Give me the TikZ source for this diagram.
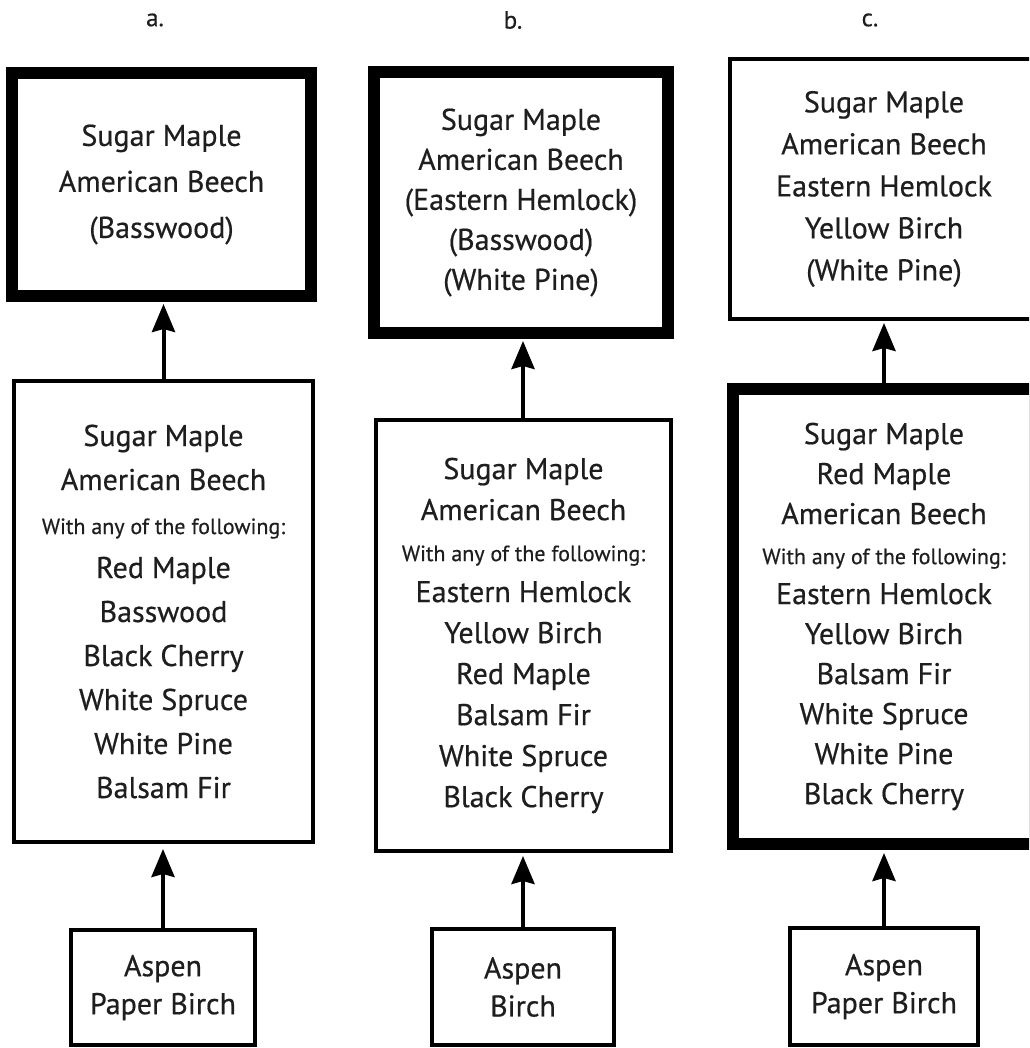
\documentclass[tikz,border=0pt]{standalone}
\usepackage{fontspec}
\setmainfont{PT Sans}[FakeBold=0.5]
\usetikzlibrary{arrows.meta}
\definecolor{txt}{HTML}{1E1E1E}
\tikzset{
  box/.style={draw=black, rectangle, inner sep=0pt, align=center, text=txt},
  thinbox/.style={box, line width=4pt},
  heavybox/.style={box, line width=12pt},
  upar/.style={draw=black, line width=4pt, -{Stealth[length=28pt,width=23pt,inset=3pt]}, shorten >=2pt},
  lab/.style={text=txt, font=\fontsize{25}{28}\selectfont},
}
\newcommand\smallline{\fontsize{22}{30}\selectfont}
\begin{document}
\begin{tikzpicture}[x=1pt,y=-1pt]
\useasboundingbox (0,0) rectangle (1029,1048);
\clip (0,0) rectangle (1029,1048);
\fill[white] (0,0) rectangle (1029,1048);

% column labels
\node[lab] (la) at (155,20) {a.};
\node[lab] (lb) at (513,20) {b.};
\node[lab] (lc) at (870,20) {c.};

% column a
\node[heavybox, minimum width=299pt, minimum height=223pt, font=\fontsize{30}{46}\selectfont] (atop) at (161.5,184.5)
  {Sugar Maple\\American Beech\\(Basswood)};
\node[thinbox, minimum width=299pt, minimum height=461pt, font=\fontsize{30}{44}\selectfont] (amid) at (163.5,611.5)
  {Sugar Maple\\American Beech\\{\smallline With any of the following:}\\Red Maple\\Basswood\\Black Cherry\\White Spruce\\White Pine\\Balsam Fir};
\node[thinbox, minimum width=184pt, minimum height=115pt, font=\fontsize{30}{38}\selectfont] (abot) at (163,987.5)
  {Aspen\\Paper Birch};

% column b
\node[heavybox, minimum width=294pt, minimum height=261pt, font=\fontsize{30}{40}\selectfont] (btop) at (521,202.5)
  {Sugar Maple\\American Beech\\(Eastern Hemlock)\\(Basswood)\\(White Pine)};
\node[thinbox, minimum width=295pt, minimum height=431pt, font=\fontsize{30}{41}\selectfont] (bmid) at (523.5,635.5)
  {Sugar Maple\\American Beech\\{\smallline With any of the following:}\\Eastern Hemlock\\Yellow Birch\\Red Maple\\Balsam Fir\\White Spruce\\Black Cherry};
\node[thinbox, minimum width=182pt, minimum height=116pt, font=\fontsize{30}{38}\selectfont] (bbot) at (523,987)
  {Aspen\\Birch};

% column c
\node[thinbox, minimum width=308pt, minimum height=260pt, font=\fontsize{30}{42}\selectfont] (ctop) at (884,189)
  {Sugar Maple\\American Beech\\Eastern Hemlock\\Yellow Birch\\(White Pine)};
\node[heavybox, minimum width=302pt, minimum height=455pt, font=\fontsize{30}{40}\selectfont] (cmid) at (884,616.5)
  {Sugar Maple\\Red Maple\\American Beech\\{\smallline With any of the following:}\\Eastern Hemlock\\Yellow Birch\\Balsam Fir\\White Spruce\\White Pine\\Black Cherry};
\node[thinbox, minimum width=188pt, minimum height=117pt, font=\fontsize{30}{38}\selectfont] (cbot) at (884,986.5)
  {Aspen\\Paper Birch};

% connectors
\draw[upar] (amid.north) -- (amid.north |- atop.south);
\draw[upar, shorten >=5pt] (abot.north) -- (abot.north |- amid.south);
\draw[upar] (bbot.north |- bmid.north) -- (bbot.north |- btop.south);
\draw[upar, shorten >=3pt] (bbot.north) -- (bbot.north |- bmid.south);
\draw[upar] (ctop.south |- cmid.north) -- (ctop.south);
\draw[upar, shorten >=3pt] (cbot.north) -- (cbot.north |- cmid.south);
\end{tikzpicture}
\end{document}
